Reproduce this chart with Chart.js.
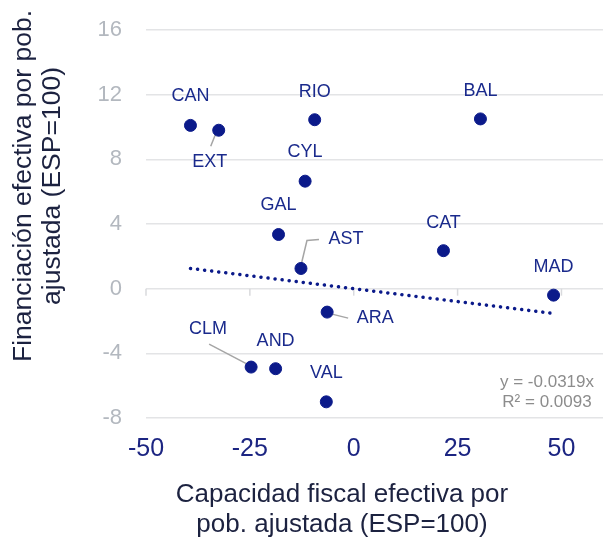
<!DOCTYPE html>
<html>
<head>
<meta charset="utf-8">
<script src="https://cdn.jsdelivr.net/npm/chart.js@4"></script>
<style>
  html, body { margin: 0; padding: 0; background: #fff; }
  #wrap { width: 610px; height: 539px; }
</style>
</head>
<body>
<div id="wrap"><canvas id="myChart"></canvas></div>
<script>
const regions = ["CAN", "EXT", "RIO", "BAL", "CYL", "GAL", "AST", "CAT", "MAD", "ARA", "CLM", "AND", "VAL"];
const capacidad = [-39.3, -32.5, -9.4, 30.5, -11.7, -18.1, -12.7, 21.6, 48.1, -6.4, -24.7, -18.8, -6.6];
const financiacion = [10.1, 9.8, 10.45, 10.5, 6.65, 3.35, 1.25, 2.35, -0.4, -1.45, -4.85, -4.95, -7.0];
const xTicks = [-50, -25, 0, 25, 50];
const yTicks = [-8, -4, 0, 4, 8, 12, 16];
const trendSlope = -0.0319;
const trendText = ["y = -0.0319x", "R² = 0.0093"];
const xTitle = ["Capacidad fiscal efectiva por", "pob. ajustada (ESP=100)"];
const yTitle = ["Financiación efectiva por pob.", "ajustada (ESP=100)"];

const FONT = "'Liberation Sans', Arial, sans-serif";
const NAVY = "#0b1a8a";

// where each label sits, in pixels from its point
const labelOffset = {
  CAN: [0, -29], EXT: [-9, 32], RIO: [0, -28], BAL: [0, -28], CYL: [0, -29], GAL: [0, -29],
  AST: [45, -29], CAT: [0, -28], MAD: [0, -28], ARA: [48, 6], CLM: [-43, -38], AND: [0, -28], VAL: [0, -29]
};
// grey leader lines, pixels from the point
const leaders = {
  EXT: [[-2, 1], [-8, 16]],
  AST: [[0, -3], [6, -28], [18, -29]],
  ARA: [[1, 1], [21, 6]],
  CLM: [[-2, -2], [-42, -23]]
};

const points = regions.map((r, i) => ({ x: capacidad[i], y: financiacion[i] }));
const xMin = Math.min(...capacidad), xMax = Math.max(...capacidad);
const trend = [xMin, xMax].map(v => ({ x: v, y: trendSlope * v }));

const extras = {
  id: "extras",
  beforeDatasetsDraw(chart) {
    const { ctx, scales: { x, y } } = chart;
    ctx.save();
    // small ticks hanging from the zero line
    ctx.strokeStyle = "#d9dadd";
    ctx.lineWidth = 1.5;
    const y0 = y.getPixelForValue(0);
    xTicks.forEach(v => {
      const px = x.getPixelForValue(v);
      ctx.beginPath();
      ctx.moveTo(px, y0);
      ctx.lineTo(px, y0 + 7);
      ctx.stroke();
    });
    // leader lines
    ctx.strokeStyle = "#a5a5a5";
    const meta = chart.getDatasetMeta(0);
    regions.forEach((r, i) => {
      const seg = leaders[r];
      if (!seg) return;
      const p = meta.data[i];
      ctx.beginPath();
      seg.forEach(([dx, dy], k) => k ? ctx.lineTo(p.x + dx, p.y + dy) : ctx.moveTo(p.x + dx, p.y + dy));
      ctx.stroke();
    });
    ctx.restore();
  },
  afterDatasetsDraw(chart) {
    const { ctx } = chart;
    const meta = chart.getDatasetMeta(0);
    ctx.save();
    ctx.font = "18px " + FONT;
    ctx.fillStyle = "#1a2a8c";
    ctx.textAlign = "center";
    ctx.textBaseline = "middle";
    regions.forEach((r, i) => {
      const p = meta.data[i];
      const [dx, dy] = labelOffset[r];
      ctx.fillText(r, p.x + dx, p.y + dy);
    });

    // trendline equation
    ctx.font = "17px " + FONT;
    ctx.fillStyle = "#8c8c8c";
    ctx.fillText(trendText[0], 547, 382);
    ctx.fillText(trendText[1], 547, 402);

    // axis titles
    ctx.font = "26px " + FONT;
    ctx.fillStyle = "#1c2240";
    ctx.fillText(xTitle[0], 342, 495);
    ctx.fillText(xTitle[1], 342, 525);

    ctx.font = "26.5px " + FONT;
    ctx.translate(0, 186);
    ctx.rotate(-Math.PI / 2);
    ctx.fillText(yTitle[0], 0, 24);
    ctx.fillText(yTitle[1], 0, 53);
    ctx.restore();
  }
};

const ctx = document.getElementById("myChart").getContext("2d");
new Chart(ctx, {
  type: "scatter",
  data: {
    datasets: [
      {
        data: points,
        backgroundColor: NAVY,
        borderColor: NAVY,
        pointRadius: 6,
        pointHoverRadius: 6,
        order: 0
      },
      {
        type: "line",
        data: trend,
        borderColor: NAVY,
        borderWidth: 3.5,
        borderDash: [0.1, 7],
        borderCapStyle: "round",
        pointRadius: 0,
        fill: false,
        order: 1
      }
    ]
  },
  options: {
    responsive: true,
    maintainAspectRatio: false,
    animation: false,
    layout: { padding: { top: 30, right: 0, left: 0, bottom: 0 } },
    plugins: { legend: { display: false }, tooltip: { enabled: false } },
    scales: {
      x: {
        type: "linear",
        min: -50,
        max: 60,
        afterBuildTicks: s => { s.ticks = xTicks.map(v => ({ value: v })); },
        afterFit: s => { s.height = 121; s.paddingLeft = 0; s.paddingRight = 0; },
        grid: { display: false },
        border: { display: false },
        ticks: { color: "#1c2582", font: { size: 25, family: FONT }, padding: 8, maxRotation: 0 }
      },
      y: {
        min: -8,
        max: 16,
        afterBuildTicks: s => { s.ticks = yTicks.map(v => ({ value: v })); },
        afterFit: s => { s.width = 146; s.paddingTop = 0; s.paddingBottom = 0; },
        grid: { color: "#e3e4e6", lineWidth: 1.5, drawTicks: false },
        border: { display: false },
        ticks: { color: "#b3b8bf", font: { size: 22, family: FONT }, padding: 24 }
      }
    }
  },
  plugins: [extras]
});
</script>
</body>
</html>
